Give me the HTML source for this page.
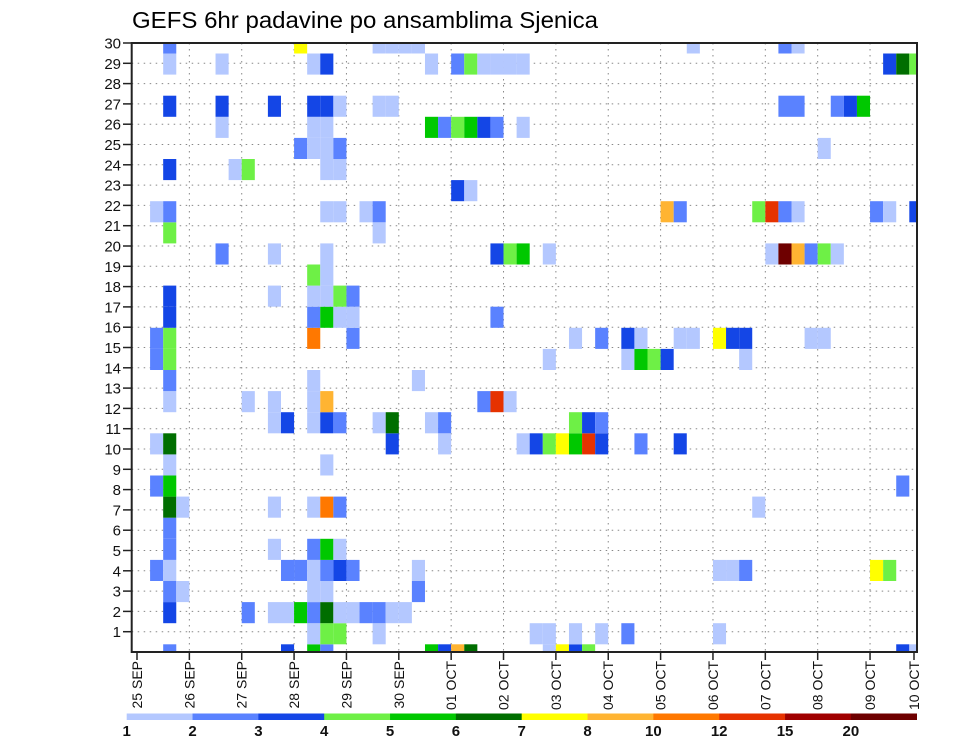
<!DOCTYPE html>
<html><head><meta charset="utf-8"><style>
html,body{margin:0;padding:0;background:#fff;}
svg{display:block;font-family:"Liberation Sans",sans-serif;}
</style></head><body>
<svg id="chart" width="960" height="742" viewBox="0 0 960 742">
<text x="132" y="28" font-size="23" textLength="466" lengthAdjust="spacingAndGlyphs" fill="#000">GEFS 6hr padavine po ansamblima Sjenica</text>
<g id="grid"></g>
<g id="cells"></g>
<rect x="131.7" y="43" width="785.3" height="609" fill="none" stroke="#222" stroke-width="2"/>
<g id="yaxis"></g>
<g id="xaxis"></g>
<g id="legend"></g>
</svg>
<script>
const dayLabels = ["25 SEP","26 SEP","27 SEP","28 SEP","29 SEP","30 SEP","01 OCT","02 OCT","03 OCT","04 OCT","05 OCT","06 OCT","07 OCT","08 OCT","09 OCT","10 OCT"];
const yTicks = [1,2,3,4,5,6,7,8,9,10,11,12,13,14,15,16,17,18,19,20,21,22,23,24,25,26,27,28,29,30];
const levelLabels = ["1","2","3","4","5","6","7","8","10","12","15","20"];
const levelColors = ["#b4c8ff","#5a82ff","#1446e6","#6ef046","#00c800","#006e00","#ffff00","#ffb432","#ff7800","#e63200","#a00000","#6e0000"];
// each member row: [time step (6h index), class 1..12]
const m29 = [[2,2],[12,7],[18,1],[19,1],[20,1],[21,1],[42,1],[49,2],[50,1]];
const m28 = [[2,1],[6,1],[13,1],[14,3],[22,1],[24,2],[25,4],[26,1],[27,1],[28,1],[29,1],[57,3],[58,6],[59,4]];
const m27 = [];
const m26 = [[2,3],[6,3],[10,3],[13,3],[14,3],[15,1],[18,1],[19,1],[49,2],[50,2],[53,2],[54,3],[55,5]];
const m25 = [[6,1],[13,1],[14,1],[22,5],[23,2],[24,4],[25,5],[26,3],[27,2],[29,1]];
const m24 = [[12,2],[13,1],[14,1],[15,2],[52,1]];
const m23 = [[2,3],[7,1],[8,4],[14,1],[15,1]];
const m22 = [[24,3],[25,1]];
const m21 = [[1,1],[2,2],[14,1],[15,1],[17,1],[18,2],[40,8],[41,2],[47,4],[48,10],[49,2],[50,1],[56,2],[57,1],[59,3]];
const m20 = [[2,4],[18,1]];
const m19 = [[6,2],[10,1],[14,1],[27,3],[28,4],[29,5],[31,1],[48,1],[49,12],[50,8],[51,2],[52,4],[53,1]];
const m18 = [[13,4],[14,1]];
const m17 = [[2,3],[10,1],[13,1],[14,1],[15,4],[16,2]];
const m16 = [[2,3],[13,2],[14,5],[15,1],[16,1],[27,2]];
const m15 = [[1,2],[2,4],[13,9],[16,2],[33,1],[35,2],[37,3],[38,1],[41,1],[42,1],[44,7],[45,3],[46,3],[51,1],[52,1]];
const m14 = [[1,2],[2,4],[31,1],[37,1],[38,5],[39,4],[40,3],[46,1]];
const m13 = [[2,2],[13,1],[21,1]];
const m12 = [[2,1],[8,1],[10,1],[13,1],[14,8],[26,2],[27,10],[28,1]];
const m11 = [[10,1],[11,3],[13,1],[14,3],[15,2],[18,1],[19,6],[22,1],[23,2],[33,4],[34,3],[35,2]];
const m10 = [[1,1],[2,6],[19,3],[23,1],[29,1],[30,3],[31,4],[32,7],[33,5],[34,10],[35,3],[38,2],[41,3]];
const m9 = [[2,1],[14,1]];
const m8 = [[1,2],[2,5],[58,2]];
const m7 = [[2,6],[3,1],[10,1],[13,1],[14,9],[15,2],[47,1]];
const m6 = [[2,2]];
const m5 = [[2,2],[10,1],[13,2],[14,5],[15,1]];
const m4 = [[1,2],[2,1],[11,2],[12,2],[13,1],[14,2],[15,3],[16,2],[21,1],[44,1],[45,1],[46,2],[56,7],[57,4]];
const m3 = [[2,2],[3,1],[13,1],[14,1],[21,2]];
const m2 = [[2,3],[8,2],[10,1],[11,1],[12,5],[13,2],[14,6],[15,1],[16,1],[17,2],[18,2],[19,1],[20,1]];
const m1 = [[13,1],[14,4],[15,4],[18,1],[30,1],[31,1],[33,1],[35,1],[37,2],[44,1]];
const m0 = [[2,2],[11,3],[13,5],[14,2],[22,5],[23,3],[24,8],[25,6],[31,1],[32,7],[33,3],[34,4],[58,3],[59,1]];
const members = [m0,m1,m2,m3,m4,m5,m6,m7,m8,m9,m10,m11,m12,m13,m14,m15,m16,m17,m18,m19,m20,m21,m22,m23,m24,m25,m26,m27,m28,m29];

const NS = "http://www.w3.org/2000/svg";
const PL = 131.7, PR = 917, PT = 43, PB = 652;
const dayW = 52.36, stepW = dayW / 4, X0 = 137;
const cellH = 21.1;
function xDay(d){ return X0 + d * dayW; }
function xStep(i){ return X0 + i * stepW; }
function yTick(v){ return PB - v * (PB - PT) / 30; }
function yCell(k){ return 654.85 - k * cellH; }
function mk(tag, attrs, parent){ const e = document.createElementNS(NS, tag); for (const a in attrs) e.setAttribute(a, attrs[a]); parent.appendChild(e); return e; }

const grid = document.getElementById('grid');
yTicks.forEach(v => {
  const l = mk('line', {x1:PL, x2:PR, y1:yTick(v), y2:yTick(v), stroke:'#888', 'stroke-width':1, 'stroke-dasharray':'1.5 4.5'}, grid);
  
  
});
dayLabels.forEach((s, d) => {
  const x = Math.min(xDay(d), 914);
  if (d > 0 && d < dayLabels.length - 1) {
    const l = mk('line', {x1:x, x2:x, y1:PT, y2:PB, stroke:'#888', 'stroke-width':1, 'stroke-dasharray':'1.5 4.5'}, grid);
    
    
  }
});

const cells = document.getElementById('cells');
members.forEach((row, k) => {
  row.forEach(([i, c]) => {
    let y1 = yCell(k) - cellH / 2, y2 = yCell(k) + cellH / 2;
    let x1 = xStep(i), x2 = xStep(i + 1);
    y1 = Math.max(y1, PT); y2 = Math.min(y2, PB);
    x1 = Math.max(x1, PL); x2 = Math.min(x2, PR);
    if (y2 <= y1 || x2 <= x1) return;
    const r = mk('rect', {x:x1, y:y1, width:x2 - x1, height:y2 - y1, fill:levelColors[c - 1]}, cells);
    
    
  });
});

const yax = document.getElementById('yaxis');
yTicks.forEach(v => {
  const y = yTick(v);
  const t = mk('line', {x1:123, x2:PL, y1:y, y2:y, stroke:'#222', 'stroke-width':1.5}, yax);
  
  
  const tx = mk('text', {x:121, y:y + 5.5, 'font-size':15, 'text-anchor':'end', fill:'#111'}, yax);
  tx.textContent = String(v);
  
  
});

const xax = document.getElementById('xaxis');
dayLabels.forEach((s, d) => {
  const x = Math.min(xDay(d), 914);
  const t = mk('line', {x1:x, x2:x, y1:PB, y2:PB + 8, stroke:'#222', 'stroke-width':1.5}, xax);
  
  
  const tx = mk('text', {x:0, y:0, 'font-size':14, 'text-anchor':'end', fill:'#111', transform:'translate(' + (x + 5) + ',661) rotate(-90)'}, xax);
  tx.textContent = s;
  
  
});

const leg = document.getElementById('legend');
const LX0 = 126.7, LX1 = 916.7, segW = (LX1 - LX0) / levelColors.length;
levelColors.forEach((col, j) => {
  const r = mk('rect', {x:LX0 + j * segW, y:713.5, width:segW + 0.3, height:6.5, fill:col}, leg);
  
  
});
levelLabels.forEach((s, j) => {
  const tx = mk('text', {x:LX0 + j * segW, y:736, 'font-size':15, 'font-weight':'bold', 'text-anchor':'middle', fill:'#111'}, leg);
  tx.textContent = s;
  
  
});
</script>
</body></html>
